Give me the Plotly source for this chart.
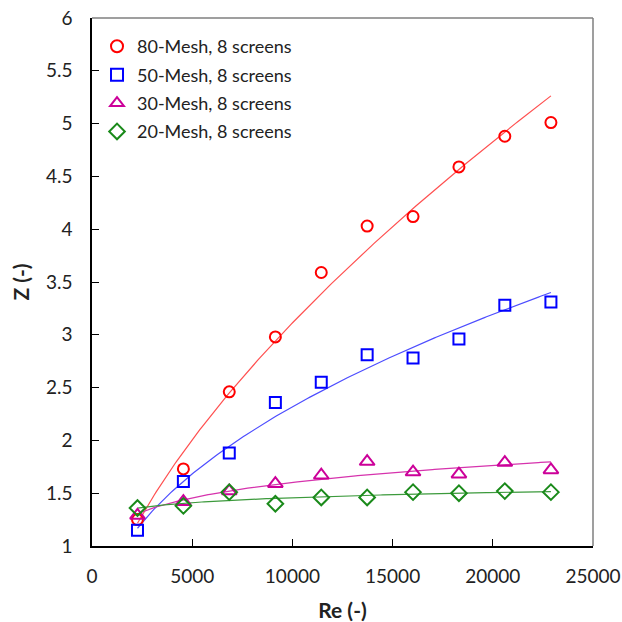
import numpy as np
import plotly.graph_objects as go

# Reynolds numbers (shared by all four screen meshes)
re_values = [2270, 4560, 6850, 9150, 11440, 13730, 16020, 18310, 20600, 22900]

# Z values for each mesh, 8 screens
z_80 = [1.25, 1.73, 2.46, 2.98, 3.59, 4.03, 4.12, 4.59, 4.88, 5.01]
z_50 = [1.15, 1.61, 1.88, 2.36, 2.55, 2.81, 2.78, 2.96, 3.28, 3.31]
z_30 = [1.29, 1.42, 1.52, 1.59, 1.67, 1.80, 1.70, 1.68, 1.79, 1.72]
z_20 = [1.36, 1.38, 1.51, 1.40, 1.46, 1.46, 1.51, 1.50, 1.52, 1.51]

labels = ["80-Mesh, 8 screens", "50-Mesh, 8 screens",
          "30-Mesh, 8 screens", "20-Mesh, 8 screens"]
colors = ["#FF0000", "#0000FF", "#CC0099", "#1A8A1A"]
line_colors = ["#FF5050", "#4D4DFF", "#D633AD", "#3C9A3C"]
symbols = ["circle-open", "square-open", "triangle-up-open", "diamond-open"]
sizes = [11, 11, 13, 12]

FONT = "Lato"
TEXT = "#222222"

fig = go.Figure()

series = [z_80, z_50, z_30, z_20]
x = np.array(re_values, dtype=float)

# Power-law trendlines (least squares in log space)
for z, lc in zip(series, line_colors):
    zz = np.array(z, dtype=float)
    b, ln_a = np.polyfit(np.log(x), np.log(zz), 1)
    xf = np.linspace(x.min(), x.max(), 200)
    yf = np.exp(ln_a) * xf ** b
    fig.add_trace(go.Scatter(x=xf, y=yf, mode="lines",
                             line=dict(color=lc, width=1.2),
                             showlegend=False, hoverinfo="skip"))

for i, (z, name, c, s, sz) in enumerate(zip(series, labels, colors, symbols, sizes)):
    fig.add_trace(go.Scatter(x=re_values, y=z, mode="markers", name=name,
                             legendgroup=f"g{i}",
                             marker=dict(symbol=s, size=sz, color=c,
                                         line=dict(color=c, width=2))))

axis_common = dict(
    showgrid=False, zeroline=False, ticks="inside", ticklen=7,
    tickcolor="#000000", tickwidth=1, showline=True, linecolor="#000000",
    linewidth=1.5, mirror=False, automargin=False,
    tickfont=dict(family=FONT, size=19, color=TEXT),
)

fig.update_layout(
    width=622, height=622,
    margin=dict(l=92, r=29, t=18, b=76),
    plot_bgcolor="white", paper_bgcolor="white",
    font=dict(family=FONT, size=18, color=TEXT),
    xaxis=dict(range=[0, 25000], dtick=5000, tick0=0, tickformat="d",
               title=dict(text="<b>Re (-)</b>", font=dict(family=FONT, size=21, color=TEXT),
                          standoff=18),
               ticklabelstandoff=12, **axis_common),
    yaxis=dict(range=[1, 6], dtick=0.5, tick0=1,
               title=dict(text="<b>Z (-)</b>", font=dict(family=FONT, size=21, color=TEXT),
                          standoff=11),
               ticklabelstandoff=14, **axis_common),
    legend=dict(x=0.01, y=0.981, xanchor="left", yanchor="top",
                bgcolor="rgba(255,255,255,0)", borderwidth=0,
                font=dict(family=FONT, size=18, color=TEXT),
                itemwidth=30, tracegroupgap=2, itemsizing="constant"),
    showlegend=True,
)

# Grey frame on the top and right of the plotting area
fig.add_shape(type="line", xref="paper", yref="paper", x0=0, x1=1, y0=1, y1=1,
              line=dict(color="#7F7F7F", width=1.5))
fig.add_shape(type="line", xref="paper", yref="paper", x0=1, x1=1, y0=0, y1=1,
              line=dict(color="#7F7F7F", width=1.5))

fig.write_html("out.html")
